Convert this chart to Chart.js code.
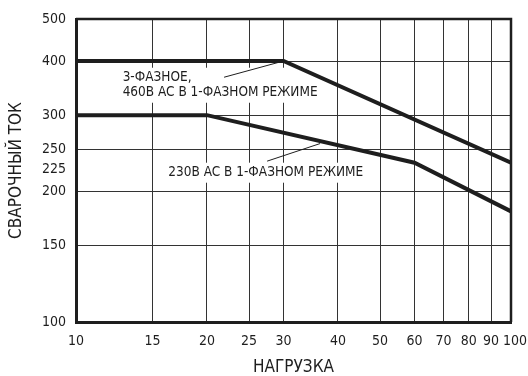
<!DOCTYPE html>
<html>
<head>
<meta charset="utf-8">
<script src="https://cdn.jsdelivr.net/npm/chart.js@4/dist/chart.umd.min.js"></script>
<style>
  html, body { margin: 0; padding: 0; background: #fff; }
  #wrap { width: 528px; height: 376px; }
</style>
</head>
<body>
<div id="wrap"><canvas id="myChart" width="528" height="376"></canvas></div>
<script>
// load (%) and welding current (A)
const xTicks = [10, 15, 20, 25, 30, 40, 50, 60, 70, 80, 90, 100];
const yTicks = [100, 150, 200, 225, 250, 300, 400, 500];

const threePhaseX = [10, 30, 100];
const threePhaseY = [400, 400, 233];

const singlePhaseX = [10, 20, 60, 100];
const singlePhaseY = [300, 300, 233, 180];

const note1 = ['3-ФАЗНОЕ,', '460В AC В 1-ФАЗНОМ РЕЖИМЕ'];
const note2 = ['230В AC В 1-ФАЗНОМ РЕЖИМЕ'];

const FONT = 'DejaVu Sans Condensed';
const ink = '#1e1e1e';

const toPoints = (xs, ys) => xs.map((x, i) => ({ x: x, y: ys[i] }));

// text labels with leader lines, anchored in data space
const notes = [
  { lines: note1, at: [12.8, 366], from: [21.9, 367], to: [30, 400] },
  { lines: note2, at: [16.3, 221], from: [27.5, 235], to: [36.4, 258] },
];

const notesPlugin = {
  id: 'notes',
  beforeDatasetsDraw(chart) {
    const { ctx, scales: { x, y } } = chart;
    ctx.save();
    ctx.font = '13.5px "' + FONT + '"';
    ctx.textBaseline = 'middle';
    notes.forEach(n => {
      const tx = x.getPixelForValue(n.at[0]);
      const ty = y.getPixelForValue(n.at[1]);
      const w = Math.max(...n.lines.map(s => ctx.measureText(s).width));
      const lh = 15;
      ctx.fillStyle = '#fff';
      ctx.fillRect(tx - 5, ty - 10, w + 10, lh * (n.lines.length - 1) + 20);
      ctx.fillStyle = ink;
      n.lines.forEach((s, i) => ctx.fillText(s, tx, ty + i * lh));
      ctx.beginPath();
      ctx.moveTo(x.getPixelForValue(n.from[0]), y.getPixelForValue(n.from[1]));
      ctx.lineTo(x.getPixelForValue(n.to[0]), y.getPixelForValue(n.to[1]));
      ctx.lineWidth = 1;
      ctx.strokeStyle = ink;
      ctx.stroke();
    });
    ctx.restore();
  },
  afterDraw(chart) {
    // top and right frame
    const { ctx, chartArea: a } = chart;
    ctx.save();
    ctx.strokeStyle = ink;
    ctx.lineWidth = 2.5;
    ctx.beginPath();
    ctx.moveTo(a.left, a.top);
    ctx.lineTo(a.right, a.top);
    ctx.lineTo(a.right, a.bottom);
    ctx.stroke();
    ctx.restore();
  }
};

new Chart(document.getElementById('myChart'), {
  type: 'line',
  data: {
    datasets: [
      {
        data: toPoints(threePhaseX, threePhaseY),
        borderColor: ink,
        borderWidth: 4,
        pointRadius: 0,
        fill: false,
      },
      {
        data: toPoints(singlePhaseX, singlePhaseY),
        borderColor: ink,
        borderWidth: 4,
        pointRadius: 0,
        fill: false,
      },
    ],
  },
  options: {
    responsive: false,
    animation: false,
    layout: { padding: { top: 19, right: 17, left: 0, bottom: 0 } },
    plugins: { legend: { display: false }, tooltip: { enabled: false } },
    scales: {
      x: {
        type: 'logarithmic',
        min: 10,
        max: 100,
        afterBuildTicks: s => { s.ticks = xTicks.map(v => ({ value: v })); },
        afterFit: s => { s.height = 54; s.paddingLeft = 0; s.paddingRight = 0; },
        grid: { color: '#333', lineWidth: 1, drawTicks: false },
        border: { color: ink, width: 3 },
        ticks: {
          color: ink,
          padding: 11,
          maxRotation: 0,
          autoSkip: false,
          font: { family: FONT, size: 14 },
          // last label sits a little right of its gridline, as in the source
          callback: v => (v === 100 ? '  100' : String(v)),
        },
        title: {
          display: true,
          text: 'НАГРУЗКА',
          color: ink,
          padding: { top: 0, bottom: 0 },
          font: { family: FONT, size: 17, lineHeight: 1 },
        },
      },
      y: {
        type: 'logarithmic',
        min: 100,
        max: 500,
        afterBuildTicks: s => { s.ticks = yTicks.map(v => ({ value: v })); },
        afterFit: s => { s.width = 76; },
        grid: {
          color: c => (c.tick && c.tick.value === 225 ? 'rgba(0,0,0,0)' : '#333'),
          lineWidth: 1,
          drawTicks: false,
        },
        border: { color: ink, width: 3 },
        ticks: {
          color: ink,
          padding: 10,
          autoSkip: false,
          font: { family: FONT, size: 14 },
          callback: v => String(v),
        },
        title: {
          display: true,
          text: 'СВАРОЧНЫЙ ТОК',
          color: ink,
          padding: { top: 8, bottom: 0 },
          font: { family: FONT, size: 17, lineHeight: 1 },
        },
      },
    },
  },
  plugins: [notesPlugin],
});
</script>
</body>
</html>
